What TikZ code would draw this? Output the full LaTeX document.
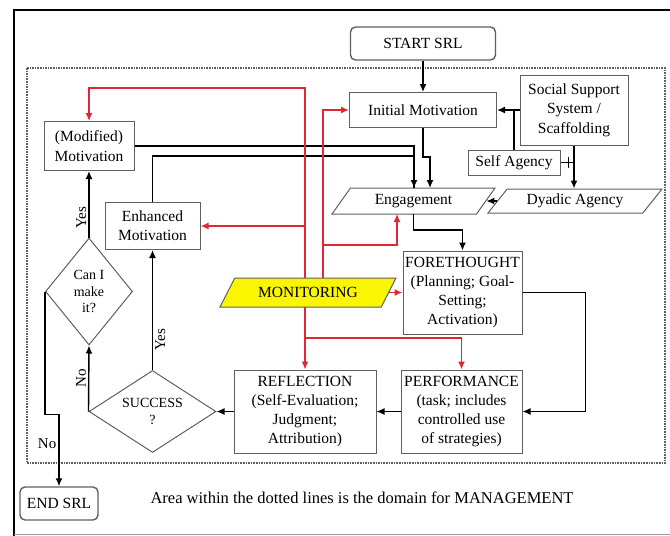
\documentclass[tikz,border=0pt]{standalone}
\usepackage{fontspec}
\setmainfont{Liberation Serif}
\usetikzlibrary{arrows.meta,shapes.geometric,calc}
\definecolor{RojoMonitor}{RGB}{226,38,52}
\definecolor{GrisCaja}{RGB}{95,95,95}
\definecolor{AmarilloMon}{RGB}{250,245,0}

\begin{document}
\begin{tikzpicture}[x=1pt,y=-1pt,>={Latex[length=8pt,width=7pt]},
  caja/.style={draw=GrisCaja,line width=1pt,align=center,inner sep=1pt,
    font=\fontsize{15.5}{19.3}\selectfont},
  terminal/.style={caja,rounded corners=5pt,line width=1.4pt},
  decision/.style={caja,diamond,inner sep=0pt,font=\fontsize{14}{16.7}\selectfont},
  parag/.style={caja,trapezium,trapezium left angle=40,trapezium right angle=140,
    trapezium stretches body},
  flujo/.style={line width=1.4pt,->},
  linea/.style={line width=1.4pt},
  rojo/.style={line width=1.4pt,RojoMonitor,->},
  etiq/.style={font=\fontsize{15}{17}\selectfont,inner sep=2pt}]
  \useasboundingbox (0,0) rectangle (670,536);
  % frame and the MANAGEMENT area
  \draw[line width=2.6pt] (672,10) -- (14,10) -- (14,538);
  \draw[line width=0.6pt,black!40] (14,534.5) -- (672,534.5);
  \draw[GrisCaja,line width=1.2pt,dash pattern=on 1.6pt off 1pt] (27,68) rectangle (665,463);

  \node[terminal,minimum width=145pt,minimum height=33pt] (start) at (423,43.5) {START SRL};
  \node[caja,minimum width=147pt,minimum height=35pt] (initmot) at (423,110) {Initial Motivation};
  \node[caja,minimum width=108pt,minimum height=70pt] (social) at (574,110) {Social Support\\System /\\Scaffolding};
  \node[caja,minimum width=92pt,minimum height=25pt] (selfag) at (514,162.5) {Self Agency};
  \node[parag,minimum width=163pt,minimum height=26pt] (eng) at (413.5,201) {Engagement};
  \node[parag,minimum width=174pt,minimum height=24pt] (dyad) at (575,201) {Dyadic Agency};
  \node[parag,fill=AmarilloMon,minimum width=176pt,minimum height=29pt] (mon) at (308,292.5) {MONITORING};
  \node[caja,minimum width=119pt,minimum height=83pt] (fore) at (462.5,292.5) {FORETHOUGHT\\(Planning; Goal-\\Setting;\\Activation)};
  \node[caja,minimum width=121pt,minimum height=83pt] (perf) at (461.5,411.5) {PERFORMANCE\\(task; includes\\controlled use\\of strategies)};
  \node[caja,minimum width=142pt,minimum height=83pt] (refl) at (305,411.5) {REFLECTION\\(Self-Evaluation;\\Judgment;\\Attribution)};
  \node[decision,aspect=1.6,minimum width=127pt,minimum height=82pt] (success) at (152.5,411.5) {SUCCESS\\?};
  \node[decision,aspect=0.8,minimum width=87pt,minimum height=107pt] (canI) at (89,291.5) {Can I\\make\\it?};
  \node[caja,minimum width=90pt,minimum height=49pt] (modmot) at (89,146) {(Modified)\\Motivation};
  \node[caja,minimum width=95pt,minimum height=47pt] (enhmot) at (152.5,226) {Enhanced\\Motivation};
  \node[terminal,minimum width=78pt,minimum height=33pt] (endsrl) at (59,503.5) {END SRL};
  \node[font=\fontsize{16.5}{19}\selectfont] (nota) at (362,498) {Area within the dotted lines is the domain for MANAGEMENT};

  % black flow
  \draw[flujo] (start) -- (initmot);
  \draw[flujo] (social) -- (initmot);
  \draw[linea] (selfag.north) -- (selfag.north |- initmot.east);
  \draw[flujo] (social.south) -- (social.south |- dyad.north);
  \draw[linea] (selfag.east) -- (selfag.east -| social.south);
  \draw[linea] ([xshift=8pt]selfag.east) ++(0,-5.5) -- ++(0,11);
  \draw[flujo] (initmot.south) -- ++(0,29) -| ([xshift=16.5pt,yshift=13pt]eng.center);
  \draw[flujo] (modmot.east) -| ([xshift=0.5pt,yshift=13pt]eng.center);
  \draw[linea] (enhmot.north) -- ++(0,-46) -| ([xshift=0.5pt,yshift=13pt]eng.center);
  \draw[flujo] (dyad.left side) -- (eng.right side);
  \draw[flujo] ([yshift=-13pt]eng.center) -- ++(0,16) -| (fore.north);
  \draw[flujo] (fore.east) -- ++(63,0) |- (perf.east);
  \draw[flujo] (perf) -- (refl);
  \draw[flujo] (refl) -- (success);
  \draw[flujo] (success.north) -- node[pos=0.25,below,sloped,etiq] {Yes} (enhmot.south);
  \draw[flujo] (success.west) -- node[midway,above,sloped,etiq] {No} (canI.south);
  \draw[flujo] (canI.north) -- node[pos=0.3,above,sloped,etiq] {Yes} (modmot.south);
  \draw[flujo] (canI.west) -- ++(0,123) -| node[pos=0.7,left,etiq] {No} (endsrl.north);

  % monitoring (red)
  \coordinate (mizq) at ([xshift=-3pt,yshift=14.5pt]mon.center);
  \coordinate (mder) at ([xshift=15pt,yshift=14.5pt]mon.center);
  \coordinate (mbajo) at ([xshift=-3pt,yshift=-14.5pt]mon.center);
  \draw[rojo] (mizq) -- ++(0,-190) -| (modmot.north);
  \draw[rojo] (enhmot.east -| mizq) -- (enhmot.east);
  \draw[rojo] (mder) |- (initmot.west);
  \draw[rojo] (mder) ++(0,-33) -| ([xshift=-16.5pt,yshift=-13pt]eng.center);
  \draw[rojo] (mon.right side) -- (mon.right side -| fore.west);
  \draw[rojo] (mbajo) -- (refl.north);
  \draw[rojo] (mbajo) ++(0,31) -| (perf.north);
\end{tikzpicture}
\end{document}
